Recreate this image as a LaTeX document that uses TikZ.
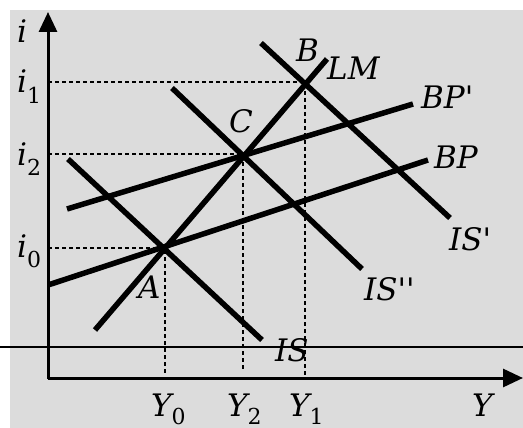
\documentclass[tikz,border=0pt]{standalone}
\usepackage{fontspec}
\setmainfont{DejaVu Serif}[Ligatures=TeXOff]
\usetikzlibrary{arrows.meta}
\definecolor{panelgray}{RGB}{220,220,220}
\tikzset{
    curve/.style={line width=5.5pt},
    axis/.style={line width=3pt, -{Triangle[length=20pt, width=18pt]}},
    guide/.style={line width=1.8pt, dash pattern=on 4pt off 3pt},
    lbl/.style={anchor=base west, inner sep=0pt, font=\fontsize{31}{36}\selectfont\itshape},
}
\newcommand{\lowsub}[2][10pt]{\raisebox{-#1}{\upshape\fontsize{22}{22}\selectfont #2}}

\begin{document}
\begin{tikzpicture}[x=1pt, y=-1pt]
\useasboundingbox (0,0) rectangle (523,428);
\fill[panelgray] (10,10) rectangle (523,428);
% equilibrium points
\coordinate (A) at (165,248);
\coordinate (C) at (243,154);
\coordinate (B) at (305,82);
\coordinate (O) at (48,379);
% axes
\draw[axis] (O) -- (48,12);
\draw[axis] (48,378) -- (523,378);
\draw[line width=1.5pt] (0,347) -- (523,347);
% guides
\draw[guide] (48,82) -- (B) -- (305,378);
\draw[guide] (48,154) -- (C) -- (243,371);
\draw[guide] (48,248) -- (A) -- (165,374);
% curves
\coordinate (LMa) at (95,330);  \coordinate (LMb) at (327,59);
\coordinate (ISa) at (68,159);  \coordinate (ISb) at (262,340);
\coordinate (IS2a) at (172,88); \coordinate (IS2b) at (362,269);
\coordinate (IS1a) at (261,43); \coordinate (IS1b) at (450,218);
\coordinate (BPa) at (48,285);  \coordinate (BPb) at (428,160);
\coordinate (BP1a) at (67,209); \coordinate (BP1b) at (413,104);
\draw[curve] (LMa) -- (LMb);
\draw[curve] (ISa) -- (ISb);
\draw[curve] (IS2a) -- (IS2b);
\draw[curve] (IS1a) -- (IS1b);
\draw[curve] (BPa) -- (BPb);
\draw[curve] (BP1a) -- (BP1b);
% labels
\node[lbl] (li) at (17,43) {i};
\node[lbl] (li1) at (17,93) {i\lowsub{1}};
\node[lbl] (li2) at (17,165) {i\lowsub{2}};
\node[lbl] (li0) at (17,257) {i\lowsub{0}};
\node[lbl] (lB) at (296,62) {B};
\node[lbl] (lLM) at (327,80) {LM};
\node[lbl] (lC) at (229,132) {C};
\node[lbl] (lA) at (138,298) {A};
\node[lbl] (lBP1) at (421,109) {BP'};
\node[lbl] (lBP) at (434,168) {BP};
\node[lbl] (lIS1) at (449,250) {IS'};
\node[lbl] (lIS2) at (364,300) {IS''};
\node[lbl] (lIS) at (275,361) {IS};
\node[lbl] (lY0) at (151,416) {Y\lowsub[8pt]{0}};
\node[lbl] (lY2) at (227,416) {Y\lowsub[8pt]{2}};
\node[lbl] (lY1) at (289,416) {Y\lowsub[8pt]{1}};
\node[lbl] (lY) at (472,416) {Y};
\end{tikzpicture}
\end{document}
